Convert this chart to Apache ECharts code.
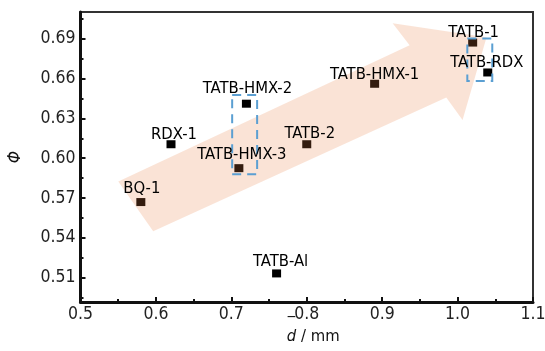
<!DOCTYPE html>
<html>
<head>
<meta charset="utf-8">
<script src="https://cdn.jsdelivr.net/npm/echarts@6/dist/echarts.min.js"></script>
<style>html,body{margin:0;padding:0;background:#fff;}#c{width:545px;height:351px;}</style>
</head>
<body>
<div id="c"></div>
<script>
// ---- data ----
const names = ['TATB-1','TATB-RDX','TATB-HMX-1','TATB-HMX-2','TATB-2','TATB-HMX-3','RDX-1','BQ-1','TATB-Al'];
const dValues = [1.02, 1.04, 0.89, 0.72, 0.80, 0.71, 0.62, 0.58, 0.76];
const phiValues = [0.687, 0.6645, 0.656, 0.641, 0.6105, 0.5925, 0.6105, 0.567, 0.5133];
const labelOffsets = [[1,-10],[-1,-10],[0,-9],[1,-15],[3,-11],[3,-13],[3,-10],[1,-13],[4,-12]];
const xTicks = [0.5,0.6,0.7,0.8,0.9,1.0,1.1];
const yTicks = [0.51,0.54,0.57,0.60,0.63,0.66,0.69];
const yMinorTicks = [0.495,0.525,0.555,0.585,0.615,0.645,0.675,0.705];
// annotation shapes (data coords)
const arrowX = [0.5501, 0.9364, 0.9139, 1.0384, 1.0066, 0.9850, 0.5964];
const arrowY = [0.5824, 0.6850, 0.7015, 0.6910, 0.6287, 0.6456, 0.5450];
const boxes = [[0.7011, 0.6475, 0.7342, 0.5880], [1.0129, 0.6900, 1.0460, 0.6580]];

const FONT = "'DejaVu Sans Condensed', 'Liberation Sans Narrow', 'Liberation Sans', Arial, sans-serif";
const FS = 16.5;

const pts = dValues.map((d,i)=>[d, phiValues[i]]);
const labelData = pts.map((p,i)=>({
  value: p,
  label: {offset: labelOffsets[i]}
}));

const chart = echarts.init(document.getElementById('c'), null, {renderer:'canvas'});
chart.setOption({
  animation: false,
  backgroundColor: '#fff',
  grid: {left: 80.5, right: 12, top: 12, bottom: 49, outerBoundsMode: 'none', containLabel: false,
    show: true, borderColor: '#333', borderWidth: 2, backgroundColor: 'transparent'},
  xAxis: [{
    type: 'value', min: 0.5, max: 1.1, interval: 0.1,
    axisLine: {show: true, onZero: false, lineStyle: {color: '#111', width: 3}},
    axisTick: {show: true, inside: true, length: 5, lineStyle: {color: '#111', width: 2}},
    minorTick: {show: true, splitNumber: 2, length: 3, lineStyle: {color: '#111', width: 2}},
    splitLine: {show: false},
    axisLabel: {color: '#222', fontFamily: FONT, fontSize: FS + 1, margin: 3, formatter: v => v.toFixed(1)},
    name: '{bar|\u203E}{hid| / mm}\n{it|d} / mm', nameLocation: 'middle', nameGap: 18, nameMoveOverlap: false,
    nameTextStyle: {color: '#111', fontFamily: FONT, fontSize: FS, padding: [0,0,0,13], lineHeight: 18,
      rich: {
        bar: {fontFamily: FONT, fontSize: FS, color: '#111', lineHeight: 8},
        hid: {fontFamily: FONT, fontSize: FS, color: 'rgba(0,0,0,0)', lineHeight: 8},
        it: {fontFamily: FONT, fontSize: FS, color: '#111', fontStyle: 'italic', lineHeight: 18}
      }}
  }],
  yAxis: [{
    type: 'value', min: 0.4918, max: 0.71,
    axisLine: {show: true, onZero: false, lineStyle: {color: '#111', width: 3}},
    axisTick: {show: true, inside: true, length: 5, customValues: yTicks, lineStyle: {color: '#111', width: 2}},
    splitLine: {show: false},
    axisLabel: {color: '#222', fontFamily: FONT, fontSize: FS + 1, margin: 5, customValues: yTicks, formatter: v => v.toFixed(2)},
    name: 'Φ', nameLocation: 'middle', nameGap: 56, nameMoveOverlap: false,
    nameTextStyle: {color: '#111', fontFamily: FONT, fontSize: FS + 1, fontStyle: 'italic'}
  },{
    type: 'value', min: 0.4918, max: 0.71, position: 'left',
    axisLine: {show: false},
    axisTick: {show: true, inside: true, length: 3, customValues: yMinorTicks, lineStyle: {color: '#111', width: 2}},
    axisLabel: {show: false},
    splitLine: {show: false}
  }],
  series: [
    {
      type: 'scatter', z: 2, symbol: 'rect', symbolSize: [9, 8],
      itemStyle: {color: '#000', opacity: 1}, data: pts, silent: true
    },
    {
      type: 'custom', z: 3, coordinateSystem: 'cartesian2d', silent: true,
      data: [[arrowX[0], arrowY[0]]],
      renderItem: function(params, api){
        const points = arrowX.map((x,i)=>api.coord([x, arrowY[i]]));
        return {type: 'polygon', shape: {points: points}, style: {fill: 'rgba(232,127,68,0.22)', stroke: null}};
      }
    },
    {
      type: 'custom', z: 4, coordinateSystem: 'cartesian2d', silent: true,
      data: boxes.map(b=>[b[0], b[1], b[2], b[3]]),
      renderItem: function(params, api){
        const p1 = api.coord([api.value(0), api.value(1)]);
        const p2 = api.coord([api.value(2), api.value(3)]);
        return {type: 'rect', shape: {x: p1[0], y: p1[1], width: p2[0]-p1[0], height: p2[1]-p1[1]},
          style: {fill: null, stroke: '#5b9fd2', lineWidth: 2, lineDash: [9, 6]}};
      }
    },
    {
      type: 'scatter', z: 5, symbol: 'rect', symbolSize: 1, silent: true,
      itemStyle: {color: 'rgba(0,0,0,0)', opacity: 1},
      label: {show: true, position: 'inside', color: '#000', opacity: 1, fontFamily: FONT, fontSize: FS,
        formatter: p => names[p.dataIndex]},
      data: labelData
    }
  ]
});
</script>
</body>
</html>
